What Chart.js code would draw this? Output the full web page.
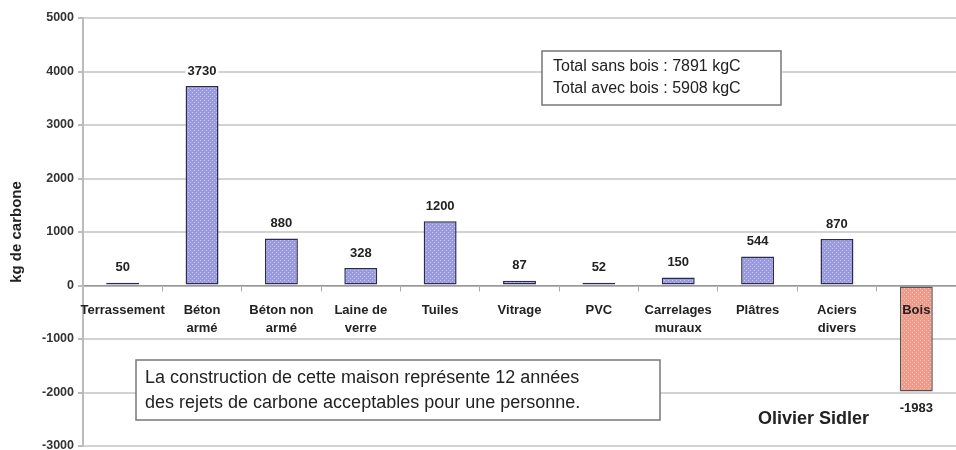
<!DOCTYPE html>
<html>
<head>
<meta charset="utf-8">
<script src="https://cdn.jsdelivr.net/npm/chart.js@4.4.1/dist/chart.umd.min.js"></script>
<style>
  html, body { margin: 0; padding: 0; background: #fff; }
  #wrap { width: 956px; height: 450px; position: relative; }
</style>
</head>
<body>
<div id="wrap"><canvas id="chartCarbone"></canvas></div>
<script>
// Données
const categories = [
  'Terrassement', ['Béton', 'armé'], ['Béton non', 'armé'], ['Laine de', 'verre'],
  'Tuiles', 'Vitrage', 'PVC', ['Carrelages', 'muraux'], 'Plâtres', ['Aciers', 'divers'], 'Bois'
];
const valeurs = [50, 3730, 880, 328, 1200, 87, 52, 150, 544, 870, -1983];
const yTicks = [-3000, -2000, -1000, 0, 1000, 2000, 3000, 4000, 5000];
const totaux = ['Total sans bois : 7891 kgC', 'Total avec bois : 5908 kgC'];
const message = ['La construction de cette maison représente 12 années',
                 'des rejets de carbone acceptables pour une personne.'];
const auteur = 'Olivier Sidler';

// motif pointillé des barres
function motif(base, point) {
  const c = document.createElement('canvas');
  c.width = 4; c.height = 4;
  const g = c.getContext('2d');
  g.fillStyle = base; g.fillRect(0, 0, 4, 4);
  g.fillStyle = point;
  g.fillRect(0, 0, 1, 1); g.fillRect(2, 2, 1, 1);
  return g.createPattern(c, 'repeat');
}
const bleu = motif('#9a9ade', '#c6c6f0');
const rose = motif('#f2998a', '#f9c8bd');

// étiquettes de valeurs + annotations
const annotations = {
  id: 'annotations',
  afterDatasetsDraw(chart) {
    const ctx = chart.ctx;
    const meta = chart.getDatasetMeta(0);
    ctx.save();
    ctx.font = 'bold 13px Arial, "Liberation Sans"';
    ctx.textAlign = 'center';
    ctx.textBaseline = 'middle';
    meta.data.forEach((bar, i) => {
      const v = valeurs[i];
      const y = v >= 0 ? bar.y - 15 : bar.y + 17;
      const t = String(v);
      const w = ctx.measureText(t).width;
      ctx.fillStyle = '#fff';
      ctx.fillRect(bar.x - w / 2 - 2, y - 7, w + 4, 14);
      ctx.fillStyle = '#222';
      ctx.fillText(t, bar.x, y);
    });
    ctx.restore();
  },
  afterDraw(chart) {
    const ctx = chart.ctx;
    const a = chart.chartArea;
    ctx.save();
    // boîte des totaux
    let x = a.left + 459, y = 51;
    ctx.fillStyle = '#fff';
    ctx.fillRect(x, y, 239, 54);
    ctx.strokeStyle = '#777'; ctx.lineWidth = 1.5;
    ctx.strokeRect(x, y, 239, 54);
    ctx.fillStyle = '#222';
    ctx.font = '16px Arial, "Liberation Sans"';
    ctx.textBaseline = 'middle';
    ctx.textAlign = 'left';
    ctx.fillText(totaux[0], x + 11, y + 16);
    ctx.fillText(totaux[1], x + 11, y + 38);
    // boîte du message
    x = a.left + 53; y = 360;
    ctx.fillStyle = '#fff';
    ctx.fillRect(x, y, 524, 60);
    ctx.strokeStyle = '#777';
    ctx.strokeRect(x, y, 524, 60);
    ctx.fillStyle = '#222';
    ctx.font = '18px Arial, "Liberation Sans"';
    ctx.fillText(message[0], x + 9, y + 18);
    ctx.fillText(message[1], x + 9, y + 43);
    // auteur
    ctx.font = 'bold 18px Arial, "Liberation Sans"';
    ctx.fillStyle = '#222';
    ctx.fillText(auteur, a.left + 675, 419);
    ctx.restore();
  }
};

const ctxCarbone = document.getElementById('chartCarbone').getContext('2d');
new Chart(ctxCarbone, {
  type: 'bar',
  data: {
    labels: categories,
    datasets: [{
      data: valeurs,
      backgroundColor: valeurs.map(v => v < 0 ? rose : bleu),
      borderColor: valeurs.map(v => v < 0 ? '#555' : '#2c2c50'),
      borderWidth: 1.5,
      borderSkipped: false,
      barPercentage: 0.83,
      categoryPercentage: 0.5
    }]
  },
  options: {
    responsive: true,
    maintainAspectRatio: false,
    animation: false,
    layout: { padding: { top: 18, right: 0, bottom: 4, left: 0 } },
    plugins: { legend: { display: false }, tooltip: { enabled: false } },
    scales: {
      x: {
        position: { y: 0 },
        grid: { drawOnChartArea: false, drawTicks: true, tickLength: 5, color: '#aaa', lineWidth: 1 },
        border: { display: true, color: '#999', width: 1.5 },
        ticks: {
          z: 1,
          color: '#222',
          font: { family: 'Arial, "Liberation Sans"', size: 13, weight: 'bold', lineHeight: 1.45 },
          maxRotation: 0, autoSkip: false, padding: 10
        }
      },
      y: {
        min: -3000, max: 5000,
        afterBuildTicks(scale) { scale.ticks = yTicks.map(v => ({ value: v })); },
        afterFit(scale) { scale.width = 83; scale.paddingTop = 0; scale.paddingBottom = 0; },
        grid: { color: '#d2d2d2', lineWidth: 2, tickLength: 5, tickColor: '#bbb' },
        border: { display: true, color: '#bbb', width: 2 },
        ticks: {
          color: '#333',
          font: { family: 'Arial, "Liberation Sans"', size: 12.5, weight: 'bold' },
          padding: 4,
          callback: v => String(v)
        },
        title: {
          display: true, text: 'kg de carbone', color: '#222',
          font: { family: 'Arial, "Liberation Sans"', size: 15, weight: 'bold' },
          padding: { top: 8, bottom: 0 }
        }
      }
    }
  },
  plugins: [annotations]
});
</script>
</body>
</html>
